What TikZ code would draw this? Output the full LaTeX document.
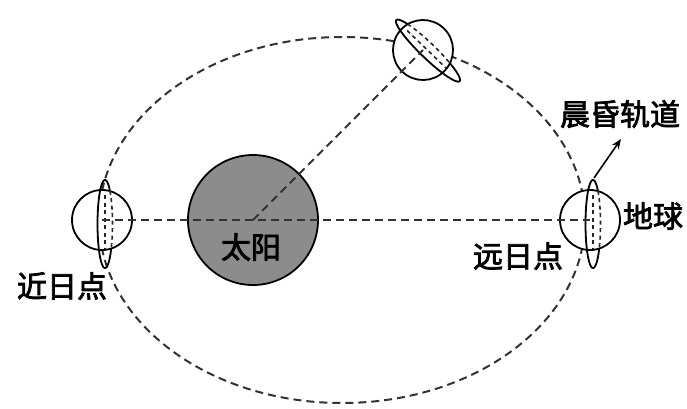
\documentclass[tikz,border=0pt]{standalone}
\usepackage{fontspec}
\newfontfamily\cjk[FakeBold=2.5]{Noto Sans CJK SC}
\usetikzlibrary{arrows.meta}
\begin{document}
\begin{tikzpicture}[x=1pt,y=-1pt,
  orbitdash/.style={line width=2pt, dash pattern=on 8pt off 5pt, draw=black!80},
  ring/.style={line width=1.8pt, draw=black},
  lensdash/.style={line width=1.6pt, dash pattern=on 4pt off 3.5pt, draw=black!85},
  label/.style={font=\cjk\fontsize{30}{30}\selectfont, inner sep=0pt},
  earth/.pic={
    \fill[white] (0,0) circle (30);
    \draw[ring] (0,0) circle (30);
    % near side of the terminator, and its tips beyond the disc
    \draw[ring] plot[domain=34:311, samples=60] ({3+7.5*cos(\x)},{4+44*sin(\x)});
    % far side of the terminator and the axis, hidden behind the disc
    \draw[lensdash] plot[domain=-49:34, samples=30] ({3+7.5*cos(\x)},{4+44*sin(\x)});
    \draw[lensdash] (3,-25) -- (3,29);
  }]
\useasboundingbox (0,0) rectangle (687,408);

% orbit
\draw[orbitdash] (342,220) ellipse [x radius=243, y radius=183];

% sun
\coordinate (sun) at (253,220);
\fill[black!45] (sun) circle (65);
\draw[ring] (sun) circle (65);

% earth at three positions
\coordinate (eL) at (102,220);
\coordinate (eR) at (590,220);
\coordinate (eT) at (423,50);
\pic at (eL) {earth};
\pic at (eR) {earth};
\pic[rotate=46] at (eT) {earth};

% sun--earth lines
\draw[orbitdash] (eL) -- (eR);
\draw[orbitdash] (sun) -- (eT);

% labels
\node[label] (tsun) at (251,247) {太阳};
\node[label] (tperi) at (62,286) {近日点};
\node[label] (taph) at (518,256) {远日点};
\node[label] (tearth) at (653,216) {地球};
\node[label] (torbit) at (620,114) {晨昏轨道};

% pointer to the terminator
\coordinate (tip) at (594,178);
\draw[line width=1.6pt, -{Stealth[length=10pt,width=8pt]}] (tip) -- (621,139);
\end{tikzpicture}
\end{document}
